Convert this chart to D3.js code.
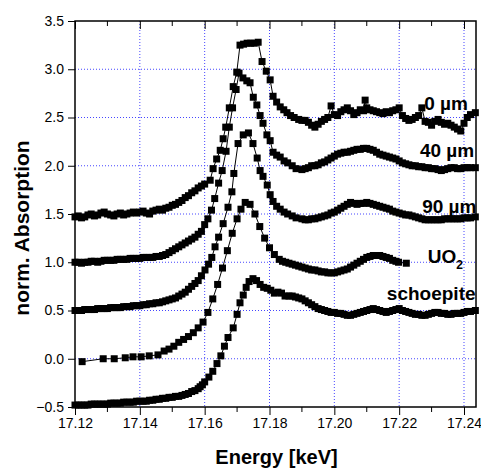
<!DOCTYPE html>
<html>
<head>
<meta charset="utf-8">
<script src="https://cdn.jsdelivr.net/npm/d3@7/dist/d3.min.js"></script>
<style>
  html, body { margin: 0; padding: 0; background: #fff; }
  svg { display: block; }
  text { font-family: "Liberation Sans", Arial, sans-serif; }
</style>
</head>
<body>
<svg id="chart" width="481" height="468"></svg>
<script>
// U L3-edge XANES spectra, [energy keV, normalised absorption], stacked with offsets
const seriesNames = ["0 µm", "40 µm", "90 µm", "UO2", "schoepite"];

const spec0um = [
  [17.120,1.47],[17.121,1.48],[17.122,1.46],[17.123,1.47],[17.124,1.49],[17.125,1.50],[17.126,1.48],
  [17.127,1.49],[17.128,1.51],[17.129,1.52],[17.130,1.50],[17.131,1.49],[17.132,1.48],[17.133,1.50],
  [17.134,1.51],[17.135,1.49],[17.136,1.50],[17.137,1.51],[17.138,1.52],[17.139,1.51],[17.140,1.52],
  [17.141,1.53],[17.142,1.51],[17.143,1.50],[17.144,1.53],[17.145,1.54],[17.146,1.55],[17.147,1.54],
  [17.148,1.56],[17.149,1.57],[17.150,1.59],[17.151,1.60],[17.152,1.62],[17.153,1.64],[17.154,1.67],
  [17.155,1.69],[17.156,1.72],[17.157,1.74],[17.158,1.77],[17.159,1.79],[17.160,1.81],
  [17.1617,1.85],[17.1626,1.97],[17.1637,2.07],[17.1648,2.16],[17.1657,2.28],[17.1665,2.40],
  [17.1676,2.60],[17.1688,2.82],[17.1699,2.97],[17.1709,3.25],[17.1720,3.26],[17.1731,3.27],
  [17.1742,3.27],[17.1753,3.27],[17.1765,3.28],[17.1777,3.08],[17.1790,2.98],[17.1802,2.89],
  [17.1811,2.72],[17.1822,2.66],[17.1833,2.61],[17.1844,2.58],[17.1854,2.55],[17.1865,2.52],
  [17.1876,2.50],[17.1890,2.48],[17.1900,2.47],
  [17.191,2.47],[17.192,2.45],[17.193,2.42],[17.194,2.40],[17.195,2.43],[17.196,2.46],[17.197,2.48],
  [17.198,2.50],[17.199,2.62],[17.200,2.53],[17.201,2.52],[17.202,2.56],[17.203,2.58],[17.204,2.60],
  [17.205,2.57],[17.206,2.53],[17.207,2.55],[17.208,2.58],[17.209,2.57],[17.2095,2.68],[17.210,2.60],
  [17.211,2.58],[17.212,2.57],[17.213,2.56],[17.214,2.55],[17.215,2.54],[17.216,2.56],[17.217,2.55],
  [17.218,2.57],[17.219,2.58],[17.220,2.60],[17.221,2.52],[17.222,2.49],[17.223,2.47],[17.224,2.48],
  [17.225,2.50],[17.226,2.52],[17.227,2.60],[17.228,2.46],[17.229,2.45],[17.230,2.42],[17.231,2.46],
  [17.232,2.48],[17.233,2.45],[17.234,2.43],[17.235,2.44],[17.236,2.42],[17.237,2.40],[17.238,2.38],
  [17.239,2.36],[17.240,2.44],[17.241,2.50],[17.242,2.53],[17.2435,2.55]
];

const spec40um = [
  [17.120,1.00],[17.121,1.00],[17.122,0.99],[17.123,1.00],[17.124,1.00],[17.125,1.01],[17.126,1.01],
  [17.127,1.00],[17.128,1.01],[17.129,1.02],[17.130,1.02],[17.131,1.02],[17.132,1.02],[17.133,1.03],
  [17.134,1.03],[17.135,1.03],[17.136,1.03],[17.137,1.04],[17.138,1.04],[17.139,1.04],[17.140,1.04],
  [17.141,1.05],[17.142,1.05],[17.143,1.05],[17.144,1.05],[17.145,1.06],[17.146,1.06],[17.147,1.07],
  [17.148,1.08],[17.149,1.10],[17.150,1.12],[17.151,1.14],[17.152,1.16],[17.153,1.18],[17.154,1.20],
  [17.155,1.22],[17.156,1.24],[17.157,1.26],[17.158,1.29],[17.159,1.32],[17.160,1.39],
  [17.1610,1.45],[17.1621,1.54],[17.1631,1.66],[17.1643,1.82],[17.1654,1.95],[17.1666,2.15],
  [17.1676,2.40],[17.1686,2.60],[17.1697,2.79],[17.1706,2.96],[17.1718,2.91],[17.1730,2.88],
  [17.1740,2.86],[17.1750,2.71],[17.1761,2.63],[17.1771,2.52],[17.1780,2.44],[17.1792,2.32],
  [17.1802,2.26],[17.1811,2.14],[17.1822,2.11],[17.1833,2.09],[17.1845,2.05],[17.1856,2.03],
  [17.1870,2.00],[17.1882,1.97],
  [17.190,1.96],[17.191,1.97],[17.192,1.98],[17.193,2.00],[17.194,2.00],[17.195,2.01],[17.196,2.03],
  [17.197,2.04],[17.198,2.06],[17.199,2.08],[17.200,2.10],[17.201,2.12],[17.202,2.13],[17.203,2.14],
  [17.204,2.14],[17.205,2.15],[17.206,2.16],[17.207,2.17],[17.208,2.17],[17.209,2.18],[17.210,2.18],
  [17.211,2.17],[17.212,2.16],[17.213,2.14],[17.214,2.12],[17.215,2.11],[17.216,2.10],[17.217,2.09],
  [17.218,2.08],[17.219,2.07],[17.220,2.05],[17.221,2.03],[17.222,2.02],[17.223,2.01],[17.224,2.00],
  [17.225,2.00],[17.226,1.99],[17.227,1.99],[17.228,1.98],[17.229,1.98],[17.230,1.97],[17.231,1.97],
  [17.232,1.96],[17.233,1.95],[17.234,1.96],[17.235,1.97],[17.236,1.98],[17.237,1.98],[17.238,1.97],
  [17.239,1.97],[17.240,1.98],[17.241,1.98],[17.242,1.98],[17.2435,1.98]
];

const spec90um = [
  [17.120,0.50],[17.121,0.50],[17.122,0.50],[17.123,0.51],[17.124,0.51],[17.125,0.51],[17.126,0.51],
  [17.127,0.52],[17.128,0.52],[17.129,0.52],[17.130,0.52],[17.131,0.53],[17.132,0.53],[17.133,0.53],
  [17.134,0.53],[17.135,0.54],[17.136,0.54],[17.137,0.54],[17.138,0.55],[17.139,0.55],[17.140,0.55],
  [17.141,0.56],[17.142,0.56],[17.143,0.57],[17.144,0.57],[17.145,0.58],[17.146,0.58],[17.147,0.59],
  [17.148,0.60],[17.149,0.61],[17.150,0.62],[17.151,0.63],[17.152,0.65],[17.153,0.67],[17.154,0.69],
  [17.155,0.72],[17.156,0.75],[17.157,0.78],[17.158,0.81],[17.159,0.86],[17.1601,0.92],
  [17.1612,0.98],[17.1622,1.05],[17.1632,1.16],[17.1643,1.26],[17.1657,1.40],[17.1672,1.57],
  [17.1684,1.73],[17.1690,1.92],[17.1703,2.23],[17.1719,2.32],[17.1735,2.34],[17.1749,2.23],
  [17.1762,2.08],[17.1771,1.95],[17.1780,1.89],[17.1793,1.80],[17.1802,1.70],[17.1811,1.63],
  [17.1822,1.58],[17.1833,1.55],[17.1845,1.52],[17.1856,1.50],[17.1870,1.48],[17.1882,1.46],
  [17.190,1.45],[17.191,1.44],[17.192,1.44],[17.193,1.45],[17.194,1.45],[17.195,1.46],[17.196,1.47],
  [17.197,1.48],[17.198,1.49],[17.199,1.51],[17.200,1.52],[17.201,1.54],[17.202,1.56],[17.203,1.58],
  [17.204,1.60],[17.205,1.62],[17.206,1.61],[17.207,1.60],[17.208,1.61],[17.209,1.61],[17.210,1.62],
  [17.211,1.61],[17.212,1.60],[17.213,1.59],[17.214,1.58],[17.215,1.57],[17.216,1.56],[17.217,1.55],
  [17.218,1.53],[17.219,1.52],[17.220,1.51],[17.221,1.50],[17.222,1.49],[17.223,1.49],[17.224,1.48],
  [17.225,1.47],[17.226,1.46],[17.227,1.45],[17.228,1.44],[17.229,1.44],[17.230,1.44],[17.231,1.44],
  [17.232,1.44],[17.233,1.44],[17.234,1.45],[17.235,1.45],[17.236,1.45],[17.237,1.45],[17.238,1.45],
  [17.239,1.45],[17.240,1.46],[17.241,1.46],[17.242,1.46],[17.2435,1.47]
];

const specUO2 = [
  [17.1222,-0.03],[17.1287,0.00],[17.1321,0.00],[17.1355,0.01],[17.1379,0.02],[17.1404,0.02],
  [17.1429,0.03],[17.1456,0.04],[17.1475,0.08],[17.149,0.10],[17.1505,0.13],[17.152,0.17],
  [17.1535,0.20],[17.155,0.23],[17.1565,0.27],[17.158,0.32],[17.1595,0.38],[17.161,0.48],
  [17.1625,0.62],[17.164,0.77],[17.1655,0.94],[17.167,1.12],[17.1685,1.30],[17.170,1.45],
  [17.1712,1.55],[17.1725,1.62],[17.174,1.60],[17.1755,1.50],[17.177,1.37],[17.1785,1.25],
  [17.180,1.15],[17.1815,1.08],
  [17.183,1.03],[17.184,1.01],[17.185,1.00],[17.186,0.99],[17.187,0.98],[17.188,0.97],[17.189,0.96],
  [17.190,0.95],[17.191,0.94],[17.192,0.93],[17.193,0.92],[17.194,0.92],[17.195,0.91],[17.196,0.90],
  [17.197,0.90],[17.198,0.89],[17.199,0.89],[17.200,0.89],[17.201,0.90],[17.202,0.91],[17.203,0.92],
  [17.204,0.93],[17.205,0.95],[17.206,0.97],[17.207,0.99],[17.208,1.01],[17.209,1.03],[17.210,1.05],
  [17.211,1.06],[17.212,1.07],[17.213,1.07],[17.214,1.07],[17.215,1.06],[17.216,1.05],[17.217,1.04],
  [17.218,1.02],[17.219,1.01],[17.2198,1.00],[17.2222,0.99]
];

const specSchoepite = [
  [17.120,-0.48],[17.121,-0.48],[17.122,-0.48],[17.123,-0.48],[17.124,-0.48],[17.125,-0.47],
  [17.126,-0.47],[17.127,-0.47],[17.128,-0.47],[17.129,-0.47],[17.130,-0.47],[17.131,-0.46],
  [17.132,-0.46],[17.133,-0.46],[17.134,-0.46],[17.135,-0.45],[17.136,-0.45],[17.137,-0.45],
  [17.138,-0.45],[17.139,-0.44],[17.140,-0.44],[17.141,-0.44],[17.142,-0.44],[17.143,-0.43],
  [17.144,-0.43],[17.145,-0.42],[17.146,-0.42],[17.147,-0.41],[17.148,-0.41],[17.149,-0.40],
  [17.150,-0.40],[17.151,-0.39],[17.152,-0.39],[17.153,-0.38],[17.154,-0.37],[17.155,-0.36],
  [17.156,-0.34],[17.157,-0.33],[17.158,-0.31],[17.1586,-0.29],[17.1593,-0.27],[17.160,-0.24],
  [17.1613,-0.19],[17.1625,-0.13],[17.1638,-0.05],[17.1650,0.03],[17.1661,0.13],[17.1672,0.22],
  [17.1688,0.32],[17.1700,0.46],[17.1709,0.58],[17.1719,0.66],[17.1728,0.74],[17.1737,0.80],
  [17.1749,0.83],[17.1760,0.81],[17.1771,0.77],[17.1782,0.74],[17.1793,0.73],[17.1804,0.71],
  [17.1815,0.68],[17.1826,0.69],[17.1837,0.68],[17.1848,0.65],
  [17.186,0.65],[17.187,0.65],[17.188,0.64],[17.189,0.63],[17.190,0.62],[17.191,0.60],[17.192,0.58],
  [17.193,0.56],[17.194,0.54],[17.195,0.52],[17.196,0.51],[17.197,0.50],[17.198,0.49],[17.199,0.48],
  [17.200,0.48],[17.201,0.47],[17.202,0.47],[17.203,0.46],[17.204,0.45],[17.205,0.45],[17.206,0.46],
  [17.207,0.47],[17.208,0.48],[17.209,0.49],[17.210,0.50],[17.211,0.51],[17.212,0.52],[17.213,0.51],
  [17.214,0.50],[17.215,0.49],[17.216,0.48],[17.217,0.49],[17.218,0.50],[17.219,0.51],[17.220,0.52],
  [17.221,0.50],[17.222,0.49],[17.223,0.48],[17.224,0.47],[17.225,0.46],[17.226,0.46],[17.227,0.45],
  [17.228,0.45],[17.229,0.46],[17.230,0.47],[17.231,0.48],[17.232,0.48],[17.233,0.47],[17.234,0.47],
  [17.235,0.46],[17.236,0.46],[17.237,0.47],[17.238,0.47],[17.239,0.47],[17.240,0.48],[17.241,0.49],
  [17.242,0.49],[17.2435,0.50]
];

const xTicks = [17.12, 17.14, 17.16, 17.18, 17.20, 17.22, 17.24];
const xMinorTicks = [17.13, 17.15, 17.17, 17.19, 17.21, 17.23];
const yTicks = [-0.5, 0.0, 0.5, 1.0, 1.5, 2.0, 2.5, 3.0, 3.5];

const xTitle = "Energy [keV]";
const yTitle = "norm. Absorption";

// Curve labels placed in data coordinates (left end of the text, baseline)
const curveLabels = [
  { text: "0 µm",      e: 17.2277, v: 2.58 },
  { text: "40 µm",     e: 17.2264, v: 2.09 },
  { text: "90 µm",     e: 17.2271, v: 1.51 },
  { text: "UO",        e: 17.2288, v: 0.99, sub: "2" },
  { text: "schoepite", e: 17.2162, v: 0.61 }
];

const svg = d3.select("#chart");
const plotL = 75, plotR = 476, plotT = 21, plotB = 407;

const x = d3.scaleLinear().domain([17.12, 17.2437]).range([plotL, plotR]);
const y = d3.scaleLinear().domain([-0.5, 3.5]).range([plotB, plotT]);

// dotted grid
const grid = svg.append("g").attr("stroke", "#4646ff").attr("stroke-width", 1)
  .attr("stroke-dasharray", "1,2");
xTicks.filter(t => t > 17.12).forEach(t => {
  grid.append("line").attr("x1", x(t)).attr("x2", x(t)).attr("y1", plotT).attr("y2", plotB);
});
yTicks.filter(t => t > -0.5 && t < 3.5).forEach(t => {
  grid.append("line").attr("x1", plotL).attr("x2", plotR).attr("y1", y(t)).attr("y2", y(t));
});

// spectra: thin connecting line plus square markers
const specs = [spec0um, spec40um, spec90um, specUO2, specSchoepite];
const line = d3.line().x(d => x(d[0])).y(d => y(d[1]));
const S = 7;
specs.forEach((data, i) => {
  const g = svg.append("g").attr("class", "series").attr("data-name", seriesNames[i]);
  g.append("path").attr("d", line(data)).attr("fill", "none")
    .attr("stroke", "#000").attr("stroke-width", 1);
  g.selectAll("rect").data(data).join("rect")
    .attr("x", d => x(d[0]) - S / 2).attr("y", d => y(d[1]) - S / 2)
    .attr("width", S).attr("height", S).attr("fill", "#000");
});

// axes
const axisFont = g => g.selectAll("text")
  .attr("font-family", "'Liberation Sans', Arial, sans-serif").attr("font-size", 14).attr("fill", "#000");

const xAxis = svg.append("g").attr("transform", `translate(0,${plotB})`)
  .call(d3.axisBottom(x).tickValues(xTicks).tickFormat(d3.format(".2f")).tickSize(8).tickPadding(3));
xAxis.call(axisFont);
xAxis.selectAll(".domain").remove();
xMinorTicks.forEach(t => {
  xAxis.append("line").attr("x1", x(t)).attr("x2", x(t)).attr("y1", 0).attr("y2", 5).attr("stroke", "#000");
});

const yAxis = svg.append("g").attr("transform", `translate(${plotL},0)`)
  .call(d3.axisLeft(y).tickValues(yTicks).tickFormat(d3.format(".1f")).tickSize(7).tickPadding(4));
yAxis.call(axisFont);
yAxis.selectAll(".domain").remove();

// top axis: inward ticks, no labels
const topAxis = svg.append("g").attr("transform", `translate(0,${plotT})`)
  .call(d3.axisBottom(x).tickValues(xTicks).tickFormat("").tickSize(8));
topAxis.selectAll(".domain").remove();
xMinorTicks.forEach(t => {
  topAxis.append("line").attr("x1", x(t)).attr("x2", x(t)).attr("y1", 0).attr("y2", 5).attr("stroke", "#000");
});

// frame
svg.append("rect").attr("x", plotL).attr("y", plotT).attr("width", plotR - plotL).attr("height", plotB - plotT)
  .attr("fill", "none").attr("stroke", "#000").attr("stroke-width", 1.5);

// titles
svg.append("text").attr("x", (plotL + plotR) / 2 + 1).attr("y", 464).attr("text-anchor", "middle")
  .attr("font-size", 20).attr("font-weight", "bold").text(xTitle);
svg.append("text").attr("transform", "translate(29,228) rotate(-90)")
  .attr("text-anchor", "middle").attr("font-size", 21).attr("font-weight", "bold").text(yTitle);

// curve labels
curveLabels.forEach(l => {
  const t = svg.append("text").attr("x", x(l.e)).attr("y", y(l.v))
    .attr("font-size", 19).attr("font-weight", "bold").text(l.text);
  if (l.sub) {
    t.append("tspan").attr("font-size", 12).attr("dy", 6).text(l.sub);
  }
});
</script>
</body>
</html>
